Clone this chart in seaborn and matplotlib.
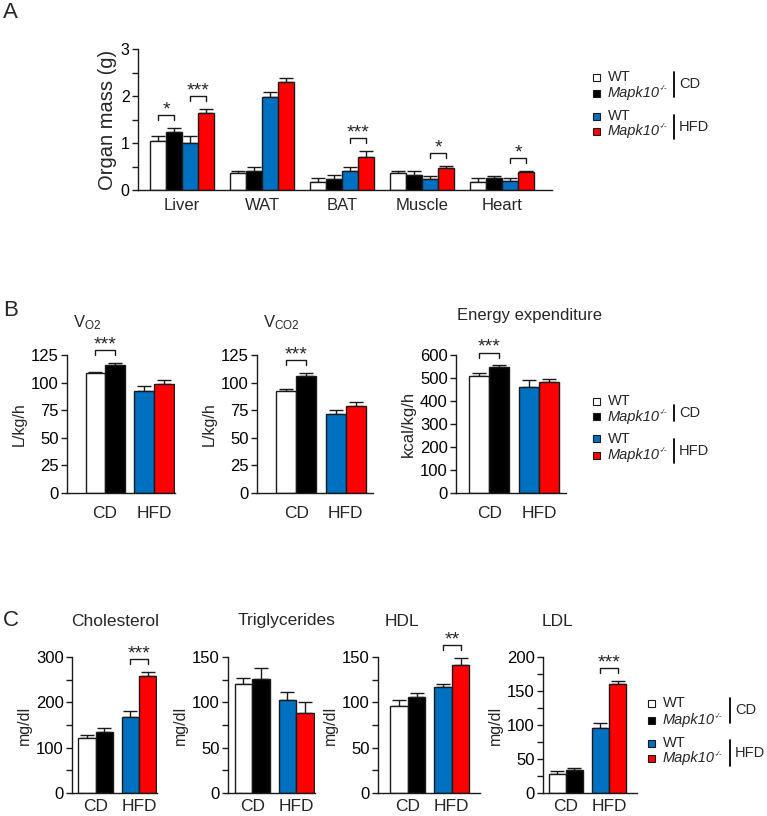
import numpy as np
import pandas as pd
import matplotlib
matplotlib.use("Agg")
import matplotlib.pyplot as plt
import seaborn as sns
from matplotlib.lines import Line2D
from matplotlib.patches import Rectangle

W, H = 767, 816

# Panel A: organ mass (g), group order: CD WT, CD KO, HFD WT, HFD KO
organs = ["Liver", "WAT", "BAT", "Muscle", "Heart"]
groups = ["CD WT", "CD KO", "HFD WT", "HFD KO"]
liver = [1.04, 1.23, 1.00, 1.63]
wat = [0.36, 0.41, 1.98, 2.29]
bat = [0.18, 0.24, 0.41, 0.71]
muscle = [0.36, 0.31, 0.23, 0.46]
heart = [0.17, 0.25, 0.20, 0.39]
liver_err = [0.10, 0.09, 0.14, 0.10]
wat_err = [0.05, 0.09, 0.11, 0.09]
bat_err = [0.07, 0.08, 0.08, 0.13]
muscle_err = [0.04, 0.09, 0.07, 0.06]
heart_err = [0.09, 0.04, 0.05, 0.02]
organ_sig = [(0, 0, 1, "*"), (0, 2, 3, "***"), (2, 2, 3, "***"),
             (3, 2, 3, "*"), (4, 2, 3, "*")]

# Panels B and C: values as [CD WT, CD KO, HFD WT, HFD KO]
diets = ["CD", "HFD"]
genotypes = ["WT", "Mapk10-/-"]
vo2 = [109, 116, 92, 99]
vo2_err = [1, 2, 5, 3]
vco2 = [92, 106, 71.5, 79]
vco2_err = [2.5, 3, 4, 3]
energy = [508, 549, 459, 482]
energy_err = [12, 7, 32, 12]
cholesterol = [122, 135, 168, 258]
cholesterol_err = [6, 9, 12, 9]
triglycerides = [120, 126, 103, 88]
triglycerides_err = [6.5, 12, 8, 12]
hdl = [96.5, 105.5, 116.5, 141]
hdl_err = [6, 5, 4, 8]
ldl = [28, 34, 95.5, 160]
ldl_err = [5, 3.5, 7, 5]

colors = ["#FFFFFF", "#000000", "#0070C0", "#FF0000"]

sns.set_theme(style="ticks")
plt.rcParams["font.family"] = ["Liberation Sans", "DejaVu Sans"]
plt.rcParams["mathtext.fontset"] = "custom"
plt.rcParams["mathtext.rm"] = "Liberation Sans"
plt.rcParams["mathtext.it"] = "Liberation Sans:italic"
plt.rcParams["axes.linewidth"] = 1.0
plt.rcParams["xtick.major.width"] = 1.0
plt.rcParams["ytick.major.width"] = 1.0
plt.rcParams["ytick.minor.width"] = 1.0
plt.rcParams["ytick.major.size"] = 4
plt.rcParams["ytick.minor.size"] = 4

fig = plt.figure(figsize=(W / 100, H / 100), dpi=100)
renderer = fig.canvas.get_renderer()


def px_axes(x0, y0, x1, y1):
    return fig.add_axes([x0 / W, 1 - y1 / H, (x1 - x0) / W, (y1 - y0) / H])


def bar_panel(ax, cats, hues, vals, errs, color_of, sig, ylim, major, minor,
              ylabel, xlim, tick_fs, xlab_fs, ylab_fs, xpad):
    rows = []
    for ci, c in enumerate(cats):
        for hi, h in enumerate(hues):
            rows.append({"cat": c, "hue": h, "value": vals[ci][hi]})
    df = pd.DataFrame(rows)
    sns.barplot(data=df, x="cat", y="value", hue="hue", order=cats,
                hue_order=hues, ax=ax, width=0.8, errorbar=None, legend=False,
                edgecolor="#1a1a1a", linewidth=1.0, zorder=2)
    ax.set_xlim(*xlim)
    ax.set_ylim(*ylim)
    centers, tops = {}, {}
    bar_conts = list(ax.containers)
    for hi, cont in enumerate(bar_conts):
        for p in cont.patches:
            xc = p.get_x() + p.get_width() / 2
            ci = int(round(xc))
            p.set_facecolor(color_of(ci, hi))
            top = p.get_height()
            err = errs[ci][hi]
            centers[(ci, hi)] = xc
            tops[(ci, hi)] = top + err
            ax.errorbar(xc, top, yerr=[[0], [err]], fmt="none", ecolor="#1a1a1a",
                        elinewidth=1.0, capsize=5, capthick=1.0, zorder=1.5)
    # significance brackets
    hpx = ax.get_window_extent(renderer).height
    unit = (ylim[1] - ylim[0]) / hpx
    for ci, h1, h2, label in sig:
        y = max(tops[(ci, h1)], tops[(ci, h2)]) + 12.5 * unit
        x1, x2 = centers[(ci, h1)], centers[(ci, h2)]
        ax.plot([x1, x1, x2, x2], [y - 5 * unit, y, y, y - 5 * unit],
                color="#1a1a1a", lw=1.0, clip_on=False)
        ax.annotate(label, (0.5 * (x1 + x2), y), xytext=(0, 0.5),
                    textcoords="offset points", ha="center", va="baseline",
                    fontsize=14, annotation_clip=False)
    ax.set_yticks(major)
    ax.set_yticks(minor, minor=True)
    ax.tick_params(axis="y", which="both", direction="out", labelsize=tick_fs,
                   pad=2, colors="#1a1a1a", labelcolor="black")
    ax.tick_params(axis="x", length=0, labelsize=xlab_fs, pad=xpad)
    ax.set_xlabel("")
    ax.set_ylabel(ylabel, fontsize=ylab_fs, labelpad=3)
    sns.despine(ax=ax)
    for s in ["left", "bottom"]:
        ax.spines[s].set_color("#1a1a1a")


def legend_block(x_sq, x_txt, rows_y, line_x, cd_span, hfd_span, fs=10.5):
    labels = ["WT", "Mapk10", "WT", "Mapk10"]
    for i, (lab, y) in enumerate(zip(labels, rows_y)):
        fig.add_artist(Rectangle(((x_sq - 3.5) / W, 1 - (y + 3.5) / H), 7 / W, 7 / H,
                                 transform=fig.transFigure, facecolor=colors[i],
                                 edgecolor="#1a1a1a", lw=0.8))
        t = fig.text(x_txt / W, 1 - y / H, lab, fontsize=fs, va="center",
                     ha="left", style="italic" if i % 2 else "normal")
        if i % 2:
            bb = t.get_window_extent(renderer)
            fig.text(bb.x1 / W, 1 - (y - 4) / H, "-/-",
                     fontsize=fs * 0.55, style="italic", va="center", ha="left")
    for (y0, y1), name in [(cd_span, "CD"), (hfd_span, "HFD")]:
        fig.add_artist(Line2D([line_x / W, line_x / W], [1 - y0 / H, 1 - y1 / H],
                              color="black", lw=1.3))
        fig.text((line_x + 5) / W, 1 - (y0 + y1) / 2 / H, name, fontsize=fs,
                 va="center", ha="left")


def four_color(ci, hi):
    return colors[hi]


def diet_color(ci, hi):
    return colors[2 * ci + hi]


def pairs(v):
    return [v[0:2], v[2:4]]


# ---- Panel A
axA = px_axes(138, 49, 552, 190)
bar_panel(axA, organs, groups, [liver, wat, bat, muscle, heart],
          [liver_err, wat_err, bat_err, muscle_err, heart_err], four_color,
          organ_sig, (0, 3), [0, 1, 2, 3], [0.5, 1.5, 2.5], "Organ mass (g)",
          (-0.55, 4.62), 11.5, 12, 14.5, 6)
legend_block(596, 608, [77, 93, 116, 131], 674, (72, 97), (115, 139))

# ---- Panel B
axB1 = px_axes(67, 355, 175, 493)
bar_panel(axB1, diets, genotypes, pairs(vo2), pairs(vo2_err), diet_color,
          [(0, 0, 1, "***")], (0, 125), np.arange(0, 126, 25), [], "L/kg/h",
          (-0.78, 1.43), 12, 12.5, 11.5, 9)
axB2 = px_axes(257, 355, 373, 493)
bar_panel(axB2, diets, genotypes, pairs(vco2), pairs(vco2_err), diet_color,
          [(0, 0, 1, "***")], (0, 125), np.arange(0, 126, 25), [], "L/kg/h",
          (-0.79, 1.55), 12, 12.5, 11.5, 9)
axB3 = px_axes(456, 355, 566, 493)
bar_panel(axB3, diets, genotypes, pairs(energy), pairs(energy_err), diet_color,
          [(0, 0, 1, "***")], (0, 600), np.arange(0, 601, 100), [], "kcal/kg/h",
          (-0.66, 1.53), 12, 12.5, 12, 9)
legend_block(596, 608, [401, 417, 439, 455], 674, (405, 421), (439, 463))

fig.text(73 / W, 1 - 323 / H, r"V$_{\mathrm{O2}}$", fontsize=12, va="center")
fig.text(263 / W, 1 - 323 / H, r"V$_{\mathrm{CO2}}$", fontsize=12, va="center")
fig.text(457 / W, 1 - 316 / H, "Energy expenditure", fontsize=12, va="center")

# ---- Panel C
axC1 = px_axes(72, 657, 157, 793)
bar_panel(axC1, diets, genotypes, pairs(cholesterol), pairs(cholesterol_err),
          diet_color, [(1, 0, 1, "***")], (0, 300), [0, 100, 200, 300],
          [50, 150, 250], "mg/dl", (-0.55, 1.42), 12, 12.5, 11.5, 4.5)
axC2 = px_axes(228, 657, 315, 793)
bar_panel(axC2, diets, genotypes, pairs(triglycerides), pairs(triglycerides_err),
          diet_color, [], (0, 150), [0, 50, 100, 150], [25, 75, 125], "mg/dl",
          (-0.55, 1.43), 12, 12.5, 11.5, 4.5)
axC3 = px_axes(378, 657, 480, 793)
bar_panel(axC3, diets, genotypes, pairs(hdl), pairs(hdl_err), diet_color,
          [(1, 0, 1, "**")], (0, 150), [0, 50, 100, 150], [25, 75, 125], "mg/dl",
          (-0.68, 1.64), 12, 12.5, 11.5, 4.5)
axC4 = px_axes(543, 657, 637, 793)
bar_panel(axC4, diets, genotypes, pairs(ldl), pairs(ldl_err), diet_color,
          [(1, 0, 1, "***")], (0, 200), [0, 50, 100, 150, 200], [25, 75, 125, 175],
          "mg/dl", (-0.53, 1.65), 12, 12.5, 11.5, 4.5)
legend_block(651, 663, [703, 720, 743, 758], 730, (698, 723), (740, 766))

for x, name in [(71, "Cholesterol"), (238, "Triglycerides"), (385, "HDL"), (542, "LDL")]:
    fig.text(x / W, 1 - 621 / H, name, fontsize=12.5, va="center")

# panel letters
for y, letter in [(13, "A"), (311, "B"), (620, "C")]:
    fig.text(3 / W, 1 - y / H, letter, fontsize=16, va="center", ha="left")

fig.savefig("out.png", dpi=100, facecolor="white")
